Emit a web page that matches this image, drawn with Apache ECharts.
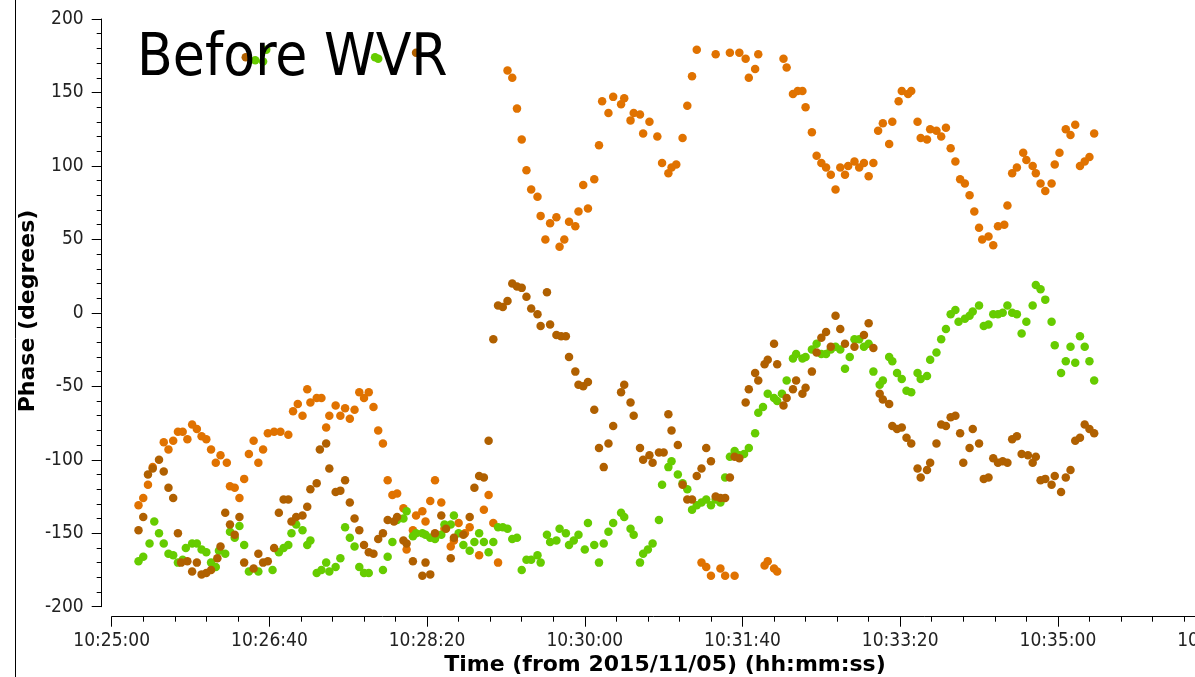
<!DOCTYPE html>
<html>
<head>
<meta charset="utf-8">
<script src="https://cdn.jsdelivr.net/npm/echarts@6/dist/echarts.min.js"></script>
<style>
html,body{margin:0;padding:0;background:#fff;}
#chart{width:1195px;height:677px;}
</style>
</head>
<body>
<div id="chart"></div>
<script>
// seconds after 10:25:00 on 2015/11/05
var baseTimeSec = 10 * 3600 + 25 * 60;
var titleText = 'Before WVR';
var xTitle = 'Time (from 2015/11/05) (hh:mm:ss)';
var yTitle = 'Phase (degrees)';

var orangeT = [17,20,23,26,33,36,39,42,45,48,51,54,57,60,63,66,69,73,75,78,81,84,87,90,93,96,99,103,107,112,115,118,121,124,126,130,133,136,138,142,145,148,151,154,157,160,163,166,169,172,175,178,181,185,187,191,193,197,199,202,205,209,211,215,217,220,224,227,233,236,239,242,245,251,254,257,260,263,266,270,272,275,278,282,284,287,290,294,296,299,302,306,309,311,315,318,323,325,329,331,335,337,341,346,349,353,355,358,362,365,368,371,374,377,380,383,386,389,392,395,398,402,404,408,410,414,416,420,422,426,428,432,435,438,440,444,447,450,453,456,459,462,465,467,471,474,477,480,483,486,489,493,495,499,501,505,507,511,513,517,519,523,526,529,532,535,538,541,544,547,550,552,556,559,562,566,568,571,574,578,580,584,586,589,592,596,598,601,605,608,611,614,617,620,623];
var orangeV = [-131,-126,-117,-105,-88,-93,-87,-81,-81,-86,-76,-79,-84,-86,-93,-102,-97,-102,-118,-119,-126,-113,-96,-87,-102,-93,-82,-81,-81,-83,-67,-62,-70,-52,-61,-58,-58,-78,-70,-63,-70,-65,-72,-66,-54,-58,-54,-64,-80,-89,-114,-124,-123,-133,-161,-148,-138,-135,-142,-128,-114,-129,-147,-159,-155,-143,-150,-146,-165,-134,-124,-143,-170,165,160,139,118,97,84,79,66,50,61,65,45,50,62,59,69,87,71,91,114,144,136,147,142,146,131,136,135,122,130,120,102,95,99,101,119,141,161,179,-170,-173,-179,176,-174,-179,177,-179,177,173,160,166,176,-172,-169,-174,-176,173,167,149,151,151,140,123,107,102,99,94,84,99,94,100,103,99,102,93,102,124,129,115,130,144,151,149,151,130,119,118,125,124,120,126,112,103,91,88,80,69,58,50,52,46,59,60,73,95,99,109,104,100,95,88,83,88,101,109,125,121,128,100,103,106,122];

var brownT = [17,20,23,26,30,33,36,39,42,44,48,51,54,57,60,63,67,69,72,75,78,81,84,85,90,93,96,99,103,106,109,112,114,117,121,124,126,130,132,136,138,142,145,148,151,154,157,160,163,166,169,172,175,179,181,185,187,191,193,197,199,202,205,209,212,215,217,223,227,230,233,236,239,242,245,248,251,254,257,260,263,266,270,272,276,278,282,285,288,290,294,296,299,302,306,309,312,315,318,323,325,329,331,335,337,341,343,347,350,353,355,359,362,365,368,371,374,377,380,383,386,389,392,395,398,402,404,408,410,414,416,420,422,426,428,432,434,438,440,444,447,450,453,456,459,462,465,471,477,480,483,487,489,493,495,498,501,504,507,511,513,517,519,523,526,529,532,535,538,540,544,546,550,553,556,559,562,565,568,571,574,577,581,584,586,589,592,596,598,602,605,608,611,614,617,620,623];
var brownV = [-148,-139,-110,-106,-100,-108,-119,-126,-150,-170,-169,-176,-170,-178,-177,-175,-167,-159,-136,-144,-151,-139,-170,174,-174,-164,-170,-169,-160,-136,-127,-127,-142,-139,-138,-132,-120,-116,-93,-89,-106,-122,-121,-114,-129,-140,-148,-158,-163,-164,-154,-150,-141,-142,-139,-155,-157,-169,177,-179,-170,-178,-150,-138,-147,-167,-153,-151,-139,-119,-111,-112,-87,-18,5,4,8,20,18,17,11,3,-1,-9,14,-8,-15,-16,-16,-30,-40,-49,-50,-47,-66,-92,-105,-89,-77,-54,-49,-61,-70,-92,-100,-97,-102,-95,-95,-69,-80,-90,-117,-127,-127,-111,-106,-92,-101,-125,-126,-126,-112,-98,-99,-61,-52,-41,-46,-35,-32,-21,-35,-63,-58,-52,-46,-55,-51,-40,-27,-17,-13,-23,-2,-11,-21,-23,-15,-7,-24,-55,-59,-62,-77,-79,-78,-85,-89,-106,-112,-107,-102,-89,-76,-77,-71,-70,-82,-102,-92,-79,-89,-113,-112,-99,-102,-101,-102,-86,-84,-96,-97,-102,-98,-114,-113,-117,-111,-122,-112,-107,-87,-85,-76,-79,-82];

var greenT = [17,20,24,27,30,33,36,39,42,45,47,51,54,57,60,63,66,68,72,75,78,81,84,87,91,93,96,98,102,106,109,112,114,117,121,124,126,130,133,136,138,142,145,148,151,154,157,160,163,167,169,172,175,178,181,185,187,191,193,197,199,202,205,209,211,215,217,220,223,227,230,233,236,239,242,245,248,251,254,257,260,263,266,270,272,276,278,282,284,288,290,293,296,300,302,306,309,312,315,318,323,325,329,331,335,337,340,343,347,349,353,355,359,362,365,368,371,374,377,380,383,386,389,392,395,398,401,404,408,410,413,416,420,422,425,428,432,434,438,440,444,447,450,453,456,459,462,465,468,471,474,477,480,483,487,489,493,495,498,501,504,507,511,513,517,519,523,526,529,532,535,537,541,544,546,550,553,556,559,562,565,568,571,574,577,580,584,586,589,592,596,598,602,605,608,611,614,617,620,623];
var greenV = [-169,-166,-157,-142,-150,-157,-164,-165,-170,-168,-160,-157,-157,-161,-163,-170,-173,-162,-164,-149,-153,-145,-158,-176,172,-176,171,179,-175,-163,-160,-158,-150,-144,-148,-158,-155,-177,-175,-170,-176,-173,-167,-146,-153,-159,-173,-177,-177,174,173,-175,-166,-156,-141,-140,-135,-152,-150,-150,-151,-153,-154,-151,-144,-144,-138,-150,-158,-162,-156,-150,-156,-163,-156,-146,-146,-147,-154,-153,-175,-168,-168,-165,-170,-151,-156,-155,-147,-150,-158,-155,-151,-161,-143,-158,-170,-157,-149,-143,-136,-139,-147,-151,-170,-164,-161,-157,-141,-117,-105,-101,-110,-116,-120,-134,-131,-129,-127,-131,-127,-129,-112,-98,-94,-97,-96,-92,-82,-68,-64,-55,-58,-60,-55,-46,-31,-28,-31,-30,-25,-21,-28,-28,-25,-23,-25,-38,-30,-18,-18,-23,-21,-40,-49,-46,-30,-33,-41,-45,-53,-54,-41,-45,-43,-32,-27,-18,-11,-1,2,-6,-4,-2,1,5,-9,-8,-1,-1,0,5,0,-1,-14,-6,5,19,16,9,-6,-22,-41,-33,-23,-34,-16,-23,-33,-46];

var xTickMin = 0, xTickMax = 700, xTickStep = 100;
var yTickMin = -200, yTickMax = 200, yTickStep = 50;

function pairs(t, v) { return t.map(function (x, i) { return [x, v[i]]; }); }
function pad(n) { return (n < 10 ? '0' : '') + n; }
function fmtTime(v) {
  var s = baseTimeSec + v;
  var h = Math.floor(s / 3600), m = Math.floor((s % 3600) / 60), sec = s % 60;
  return pad(h) + ':' + pad(m) + ':' + pad(sec);
}

var tickFont = 'DejaVu Sans Condensed';
var chart = echarts.init(document.getElementById('chart'), null, {renderer: 'canvas'});
var axisCommon = {
  type: 'value',
  offset: 10,
  axisLine: {show: true, onZero: false, lineStyle: {color: '#000', width: 1}},
  axisTick: {show: true, length: 10, lineStyle: {color: '#000', width: 1}},
  minorTick: {show: true, splitNumber: 5, length: 5, lineStyle: {color: '#000', width: 1}},
  splitLine: {show: false},
  minorSplitLine: {show: false}
};
var option = {
  animation: false,
  backgroundColor: '#ffffff',
  grid: {left: 111.7, width: 1103.9, top: 19, bottom: 70.3, containLabel: false, outerBoundsMode: 'none'},
  xAxis: Object.assign({}, axisCommon, {
    min: xTickMin, max: xTickMax, interval: xTickStep,
    axisLabel: {show: true, margin: 15, fontFamily: tickFont, fontSize: 19, color: '#222', formatter: fmtTime, showMaxLabel: true, showMinLabel: true}
  }),
  yAxis: Object.assign({}, axisCommon, {
    min: yTickMin, max: yTickMax, interval: yTickStep,
    axisLabel: {show: true, margin: 18, fontFamily: tickFont, fontSize: 19, color: '#222'}
  }),
  graphic: [
    {type: 'line', shape: {x1: 15.5, y1: 0, x2: 15.5, y2: 677}, style: {stroke: '#000', lineWidth: 1}, silent: true},
    {type: 'text', x: 137, y: 60, style: {text: titleText, font: '58px "DejaVu Sans Condensed"', fill: '#000', align: 'left', verticalAlign: 'middle'}, z: 100},
    {type: 'text', x: 665, y: 665, style: {text: xTitle, font: 'bold 22px "DejaVu Sans"', fill: '#000', align: 'center', verticalAlign: 'middle'}},
    {type: 'text', x: 28, y: 311, rotation: Math.PI / 2, style: {text: yTitle, font: 'bold 22px "DejaVu Sans"', fill: '#000', align: 'center', verticalAlign: 'middle'}}
  ],
  series: [
    {name: 'orange', type: 'scatter', symbol: 'circle', symbolSize: 8.5, itemStyle: {color: '#E07200', opacity: 1}, data: pairs(orangeT, orangeV), z: 2},
    {name: 'green', type: 'scatter', symbol: 'circle', symbolSize: 8.5, itemStyle: {color: '#66CC00', opacity: 1}, data: pairs(greenT, greenV), z: 3},
    {name: 'brown', type: 'scatter', symbol: 'circle', symbolSize: 8.5, itemStyle: {color: '#B06000', opacity: 1}, data: pairs(brownT, brownV), z: 4}
  ]
};
chart.setOption(option);
</script>
</body>
</html>
